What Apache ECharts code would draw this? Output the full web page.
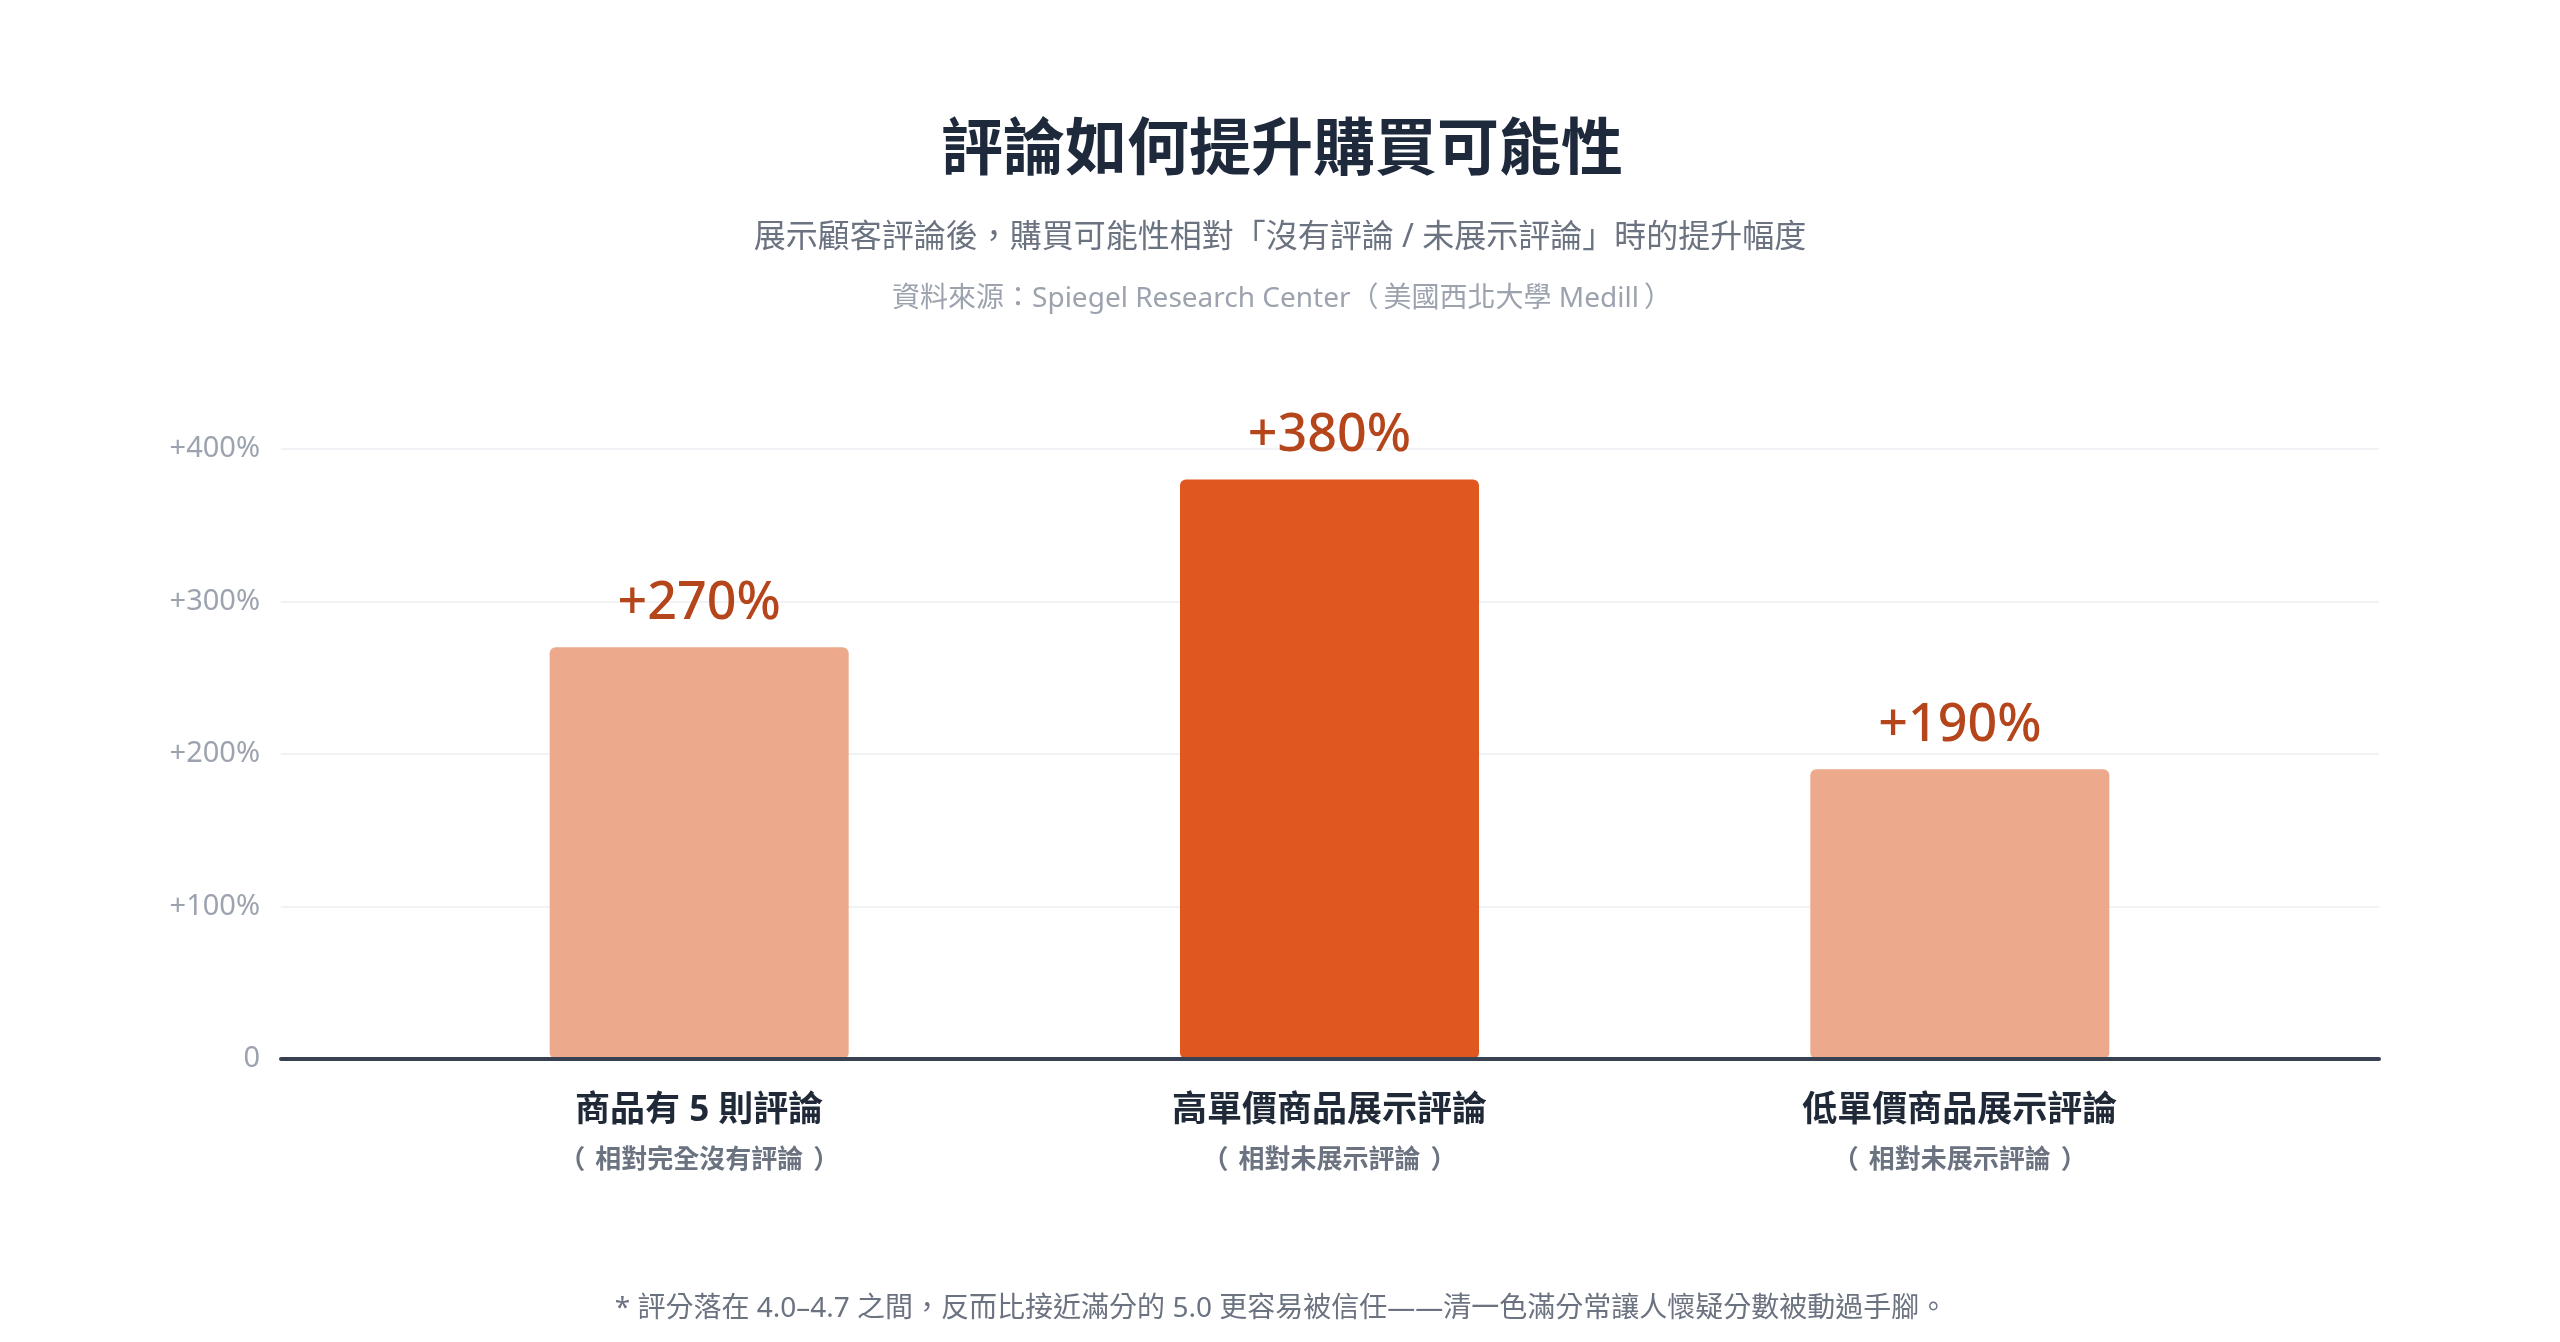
<!DOCTYPE html>
<html>
<head>
<meta charset="utf-8">
<script src="https://cdn.jsdelivr.net/npm/echarts@6/dist/echarts.min.js"></script>
<style>
html,body{margin:0;padding:0;background:#fff;}
#chart{width:2560px;height:1342px;}
</style>
</head>
<body>
<div id="chart"></div>
<script>
// ---- data ----
const categories = ['商品有 5 則評論', '高單價商品展示評論', '低單價商品展示評論'];
const subLabels = ['（相對完全沒有評論）', '（相對未展示評論）', '（相對未展示評論）'];
const values = [270, 380, 190];
const highlighted = [false, true, false];
const yTicks = [0, 100, 200, 300, 400];
const titleText = '評論如何提升購買可能性';
const subtitleText = '展示顧客評論後，購買可能性相對「沒有評論 / 未展示評論」時的提升幅度';
const sourceText = '資料來源：Spiegel Research Center（美國西北大學 Medill）';
const footnoteText = '* 評分落在 4.0–4.7 之間，反而比接近滿分的 5.0 更容易被信任——清一色滿分常讓人懷疑分數被動過手腳。';

const FONT = "'Noto Sans', 'Noto Sans CJK TC', sans-serif";
const LIGHT = '#ECA98B';
const DARK = '#E0571F';

// wrap full-width parentheses in their own rich segments so they can get breathing room
function richParens(str, base) {
  return ('{' + base + '|' + str.replace(/（/g, '}{po|（}{' + base + '|').replace(/）/g, '}{pc|）}{' + base + '|') + '}')
    .replace(new RegExp('\\{' + base + '\\|\\}', 'g'), '');
}

const chart = echarts.init(document.getElementById('chart'));

const option = {
  backgroundColor: '#ffffff',
  textStyle: { fontFamily: FONT },
  animation: false,
  grid: [
    { left: 281, right: 181, top: 449, bottom: 283 },
    { left: 384, right: 285, top: 449, bottom: 283 }
  ],
  xAxis: [
    {
      gridIndex: 0, type: 'value', min: 0, max: 1, z: 10,
      axisLine: { show: true, lineStyle: { color: '#374151', width: 4 } },
      axisTick: { show: false }, axisLabel: { show: false }, splitLine: { show: false }
    },
    {
      gridIndex: 1, type: 'category', data: categories,
      axisLine: { show: false }, axisTick: { show: false },
      axisLabel: {
        margin: 28,
        interval: 0,
        formatter: function (v, i) { return '{a|' + v + '}\n' + richParens(subLabels[i], 'b'); },
        rich: {
          a: { fontFamily: FONT, fontSize: 35, fontWeight: 'bold', color: '#1f2937', lineHeight: 49 },
          b: { fontFamily: FONT, fontSize: 26, fontWeight: 'bold', color: '#6b7280', lineHeight: 49 },
          po: { fontFamily: FONT, fontSize: 26, fontWeight: 'bold', color: '#6b7280', lineHeight: 49, padding: [0, 10, 0, 0] },
          pc: { fontFamily: FONT, fontSize: 26, fontWeight: 'bold', color: '#6b7280', lineHeight: 49, padding: [0, 0, 0, 10] }
        }
      }
    }
  ],
  yAxis: [
    {
      gridIndex: 0, type: 'value', min: yTicks[0], max: yTicks[yTicks.length - 1], interval: 100,
      axisLine: { show: false }, axisTick: { show: false },
      axisLabel: {
        margin: 21, fontFamily: FONT, fontSize: 29, color: '#9ca3af',
        formatter: function (v) { return v === 0 ? '0' : '+' + v + '%'; }
      },
      splitLine: { show: true, lineStyle: { color: '#f1f2f5', width: 2 } }
    },
    {
      gridIndex: 1, type: 'value', min: yTicks[0], max: yTicks[yTicks.length - 1], interval: 100,
      show: false, splitLine: { show: false }
    }
  ],
  series: [
    {
      type: 'bar',
      xAxisIndex: 1, yAxisIndex: 1,
      barWidth: 299,
      data: values.map(function (v, i) {
        return { value: v, itemStyle: { color: highlighted[i] ? DARK : LIGHT } };
      }),
      itemStyle: { borderRadius: 6 },
      label: {
        show: true, position: 'top', distance: 17,
        fontFamily: FONT, fontSize: 52, fontWeight: 500, color: '#B5451B',
        formatter: function (p) { return '+' + p.value + '%'; }
      }
    }
  ],
  graphic: [
    { type: 'text', x: 1282, y: 152, style: { text: titleText, fontFamily: FONT, fontSize: 62, fontWeight: 'bold', fill: '#1e293b', textAlign: 'center', textVerticalAlign: 'middle' } },
    { type: 'text', x: 1280, y: 238, style: { text: subtitleText, fontFamily: FONT, fontSize: 32, fill: '#6b7280', textAlign: 'center', textVerticalAlign: 'middle' } },
    { type: 'text', x: 1282, y: 299, style: {
        text: richParens(sourceText, 's'), textAlign: 'center', textVerticalAlign: 'middle',
        rich: {
          s: { fontFamily: FONT, fontSize: 28, fill: '#9ca3af', color: '#9ca3af' },
          po: { fontFamily: FONT, fontSize: 28, fill: '#9ca3af', color: '#9ca3af', padding: [0, 5, 0, 0] },
          pc: { fontFamily: FONT, fontSize: 28, fill: '#9ca3af', color: '#9ca3af', padding: [0, 0, 0, 5] }
        }
    } },
    { type: 'text', x: 1281, y: 1309, style: { text: footnoteText, fontFamily: FONT, fontSize: 28, fill: '#6b7280', textAlign: 'center', textVerticalAlign: 'middle' } }
  ]
};

chart.setOption(option);
</script>
</body>
</html>
